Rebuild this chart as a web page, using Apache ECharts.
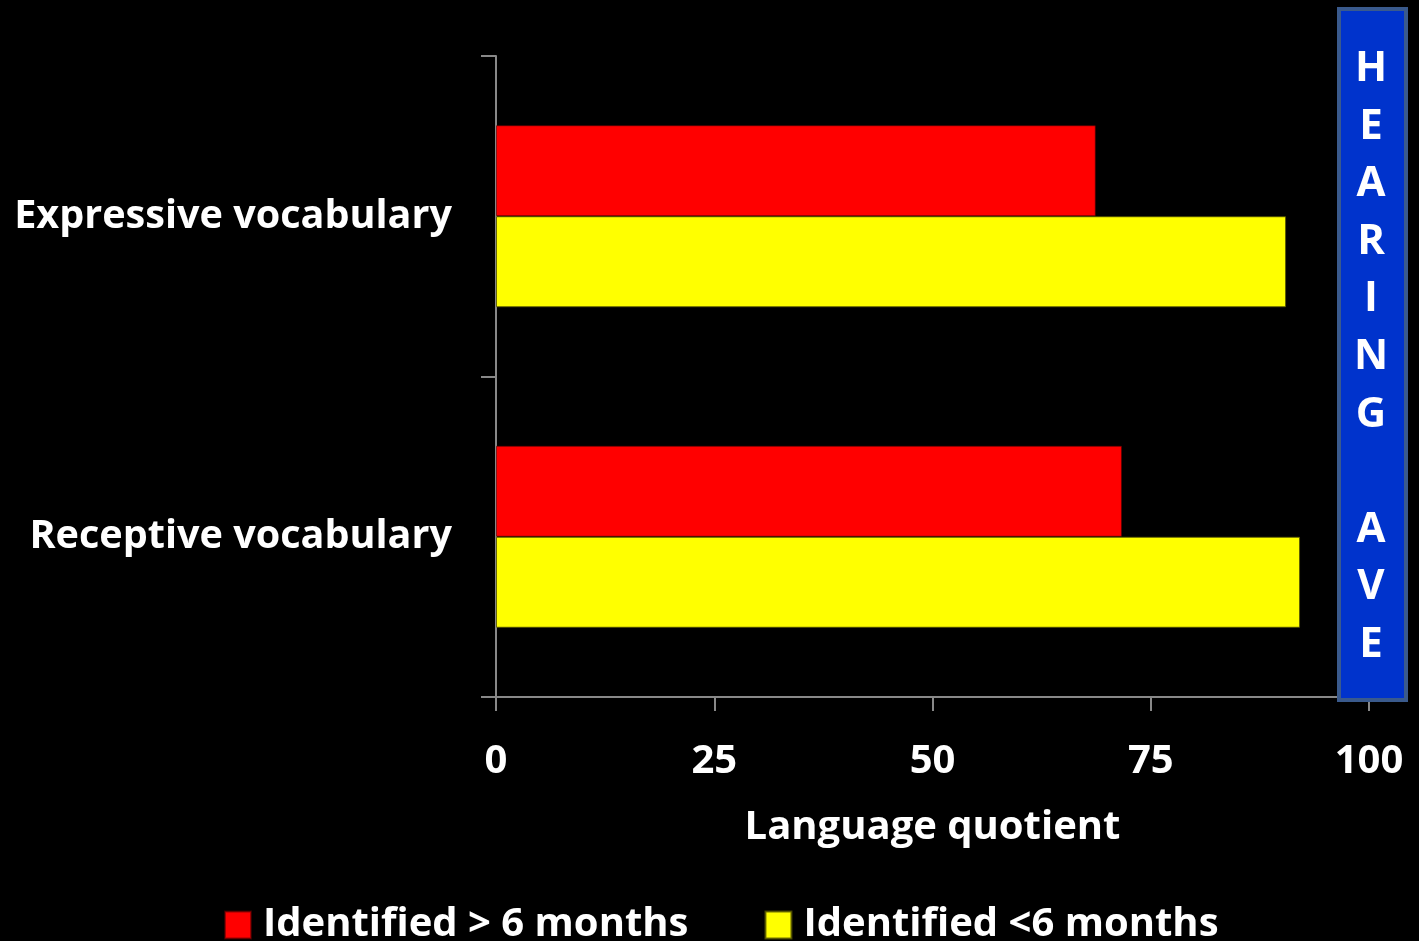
<!DOCTYPE html>
<html>
<head>
<meta charset="utf-8">
<script src="https://cdn.jsdelivr.net/npm/echarts@6/dist/echarts.min.js"></script>
<style>
  html, body { margin: 0; padding: 0; background: #000; }
  #chart { width: 1419px; height: 941px; }
</style>
</head>
<body>
<div id="chart"></div>
<script>
// Vocabulary measures (top to bottom)
const categories = ['Expressive vocabulary', 'Receptive vocabulary'];
// Language quotient per group
const lateIdentified = [68.7, 71.7];   // Identified > 6 months
const earlyIdentified = [90.5, 92.1];  // Identified <6 months
const seriesNames = ['Identified > 6 months', 'Identified <6 months'];
const xTicks = [0, 25, 50, 75, 100];
const bandLetters = ['H', 'E', 'A', 'R', 'I', 'N', 'G', '', 'A', 'V', 'E'];

const FONT = '"Open Sans"';
const chart = echarts.init(document.getElementById('chart'));

// Vertical "HEARING AVE" band lettering, one glyph per row
const letterEls = bandLetters.map((ch, i) => ({
  type: 'text',
  x: 1371,
  y: 69 + i * 57.6,
  style: {
    text: ch, fill: '#fff', font: 'bold 42px ' + FONT,
    align: 'center', verticalAlign: 'middle'
  },
  z: 101
}));

chart.setOption({
  backgroundColor: '#000',
  animation: false,
  textStyle: { fontFamily: FONT },
  grid: { left: 496, right: 50, top: 56, bottom: 244, containLabel: false },
  legend: {
    data: seriesNames,
    left: 219,
    top: 900,
    itemWidth: 26,
    itemHeight: 27,
    itemGap: 76,
    icon: 'rect',
    textStyle: { color: '#fff', fontSize: 40, fontWeight: 'bold', fontFamily: FONT, padding: [0, 0, 0, 7] }
  },
  xAxis: {
    type: 'value',
    min: 0,
    max: 100,
    interval: 25,
    name: 'Language quotient',
    nameLocation: 'middle',
    nameGap: 111,
    nameTextStyle: { color: '#fff', fontSize: 40, fontWeight: 'bold', fontFamily: FONT },
    axisLine: { show: true, lineStyle: { color: '#888', width: 2 } },
    axisTick: { show: true, length: 14, lineStyle: { color: '#888', width: 2 } },
    axisLabel: {
      color: '#fff', fontSize: 40, fontWeight: 'bold', fontFamily: FONT, margin: 45,
      formatter: v => xTicks.includes(v) ? String(v) : ''
    },
    splitLine: { show: false }
  },
  yAxis: {
    type: 'category',
    data: categories,
    inverse: true,
    axisLine: { show: true, lineStyle: { color: '#888', width: 2 } },
    axisTick: { show: true, length: 15, lineStyle: { color: '#888', width: 2 } },
    axisLabel: { color: '#fff', fontSize: 39.6, fontWeight: 'bold', fontFamily: FONT, margin: 44 }
  },
  series: [
    {
      name: seriesNames[0],
      type: 'bar',
      data: lateIdentified,
      barWidth: 91,
      barGap: '0%',
      itemStyle: { color: '#ff0000', borderColor: 'rgba(90,0,0,0.6)', borderWidth: 1 }
    },
    {
      name: seriesNames[1],
      type: 'bar',
      data: earlyIdentified,
      barWidth: 91,
      barGap: '0%',
      itemStyle: { color: '#ffff00', borderColor: 'rgba(80,80,0,0.8)', borderWidth: 1 }
    }
  ],
  graphic: [
    {
      type: 'rect',
      left: 1337,
      top: 7,
      shape: { x: 0, y: 0, width: 67, height: 691 },
      style: { fill: '#0033cc', stroke: '#3a5a8c', lineWidth: 4 },
      z: 100
    }
  ].concat(letterEls)
});
</script>
</body>
</html>
